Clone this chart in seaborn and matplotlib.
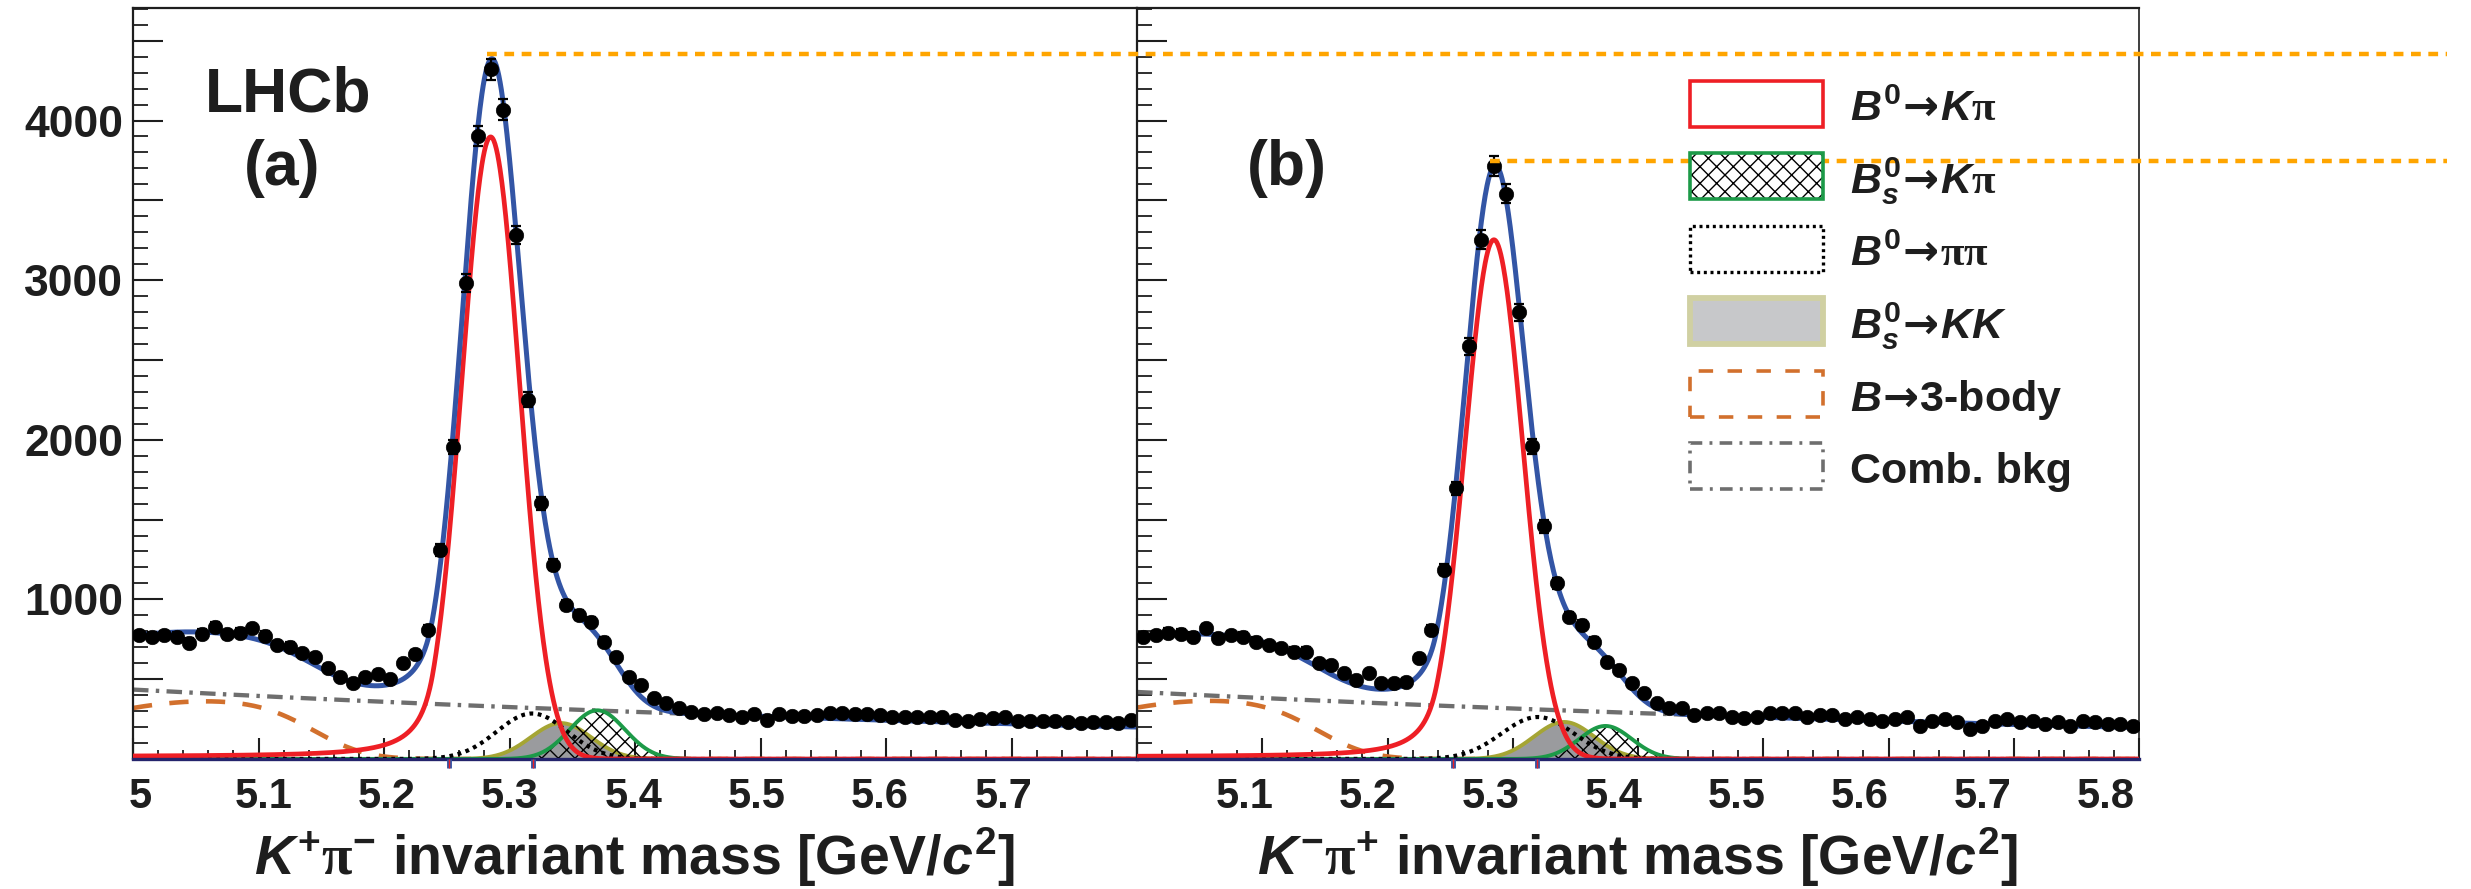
import math
import numpy as np
import matplotlib
matplotlib.use("Agg")
import matplotlib.pyplot as plt
import seaborn as sns
from matplotlib.lines import Line2D
from matplotlib.patches import Rectangle
from matplotlib.ticker import FixedLocator, FuncFormatter
from matplotlib.transforms import ScaledTranslation

sns.set_theme(style="white")
plt.rcParams.update({
    "font.family": ["Liberation Sans", "DejaVu Sans"],
    "font.weight": "bold",
    "mathtext.fontset": "custom",
    "mathtext.rm": "Liberation Serif",
    "mathtext.it": "Liberation Sans:italic:bold",
    "mathtext.bf": "Liberation Sans:bold",
    "mathtext.sf": "DejaVu Sans",
    "hatch.linewidth": 1.0,
    "axes.linewidth": 1.5,
})

# ---------------- binned data (10 MeV bins, 5.0 - 5.8 GeV) ----------------
bin_centres = np.round(5.005 + 0.01 * np.arange(80), 3)

counts_kpi = [
    777, 767, 777, 767, 729, 784, 830, 782, 792, 819,
    773, 715, 704, 663, 641, 569, 516, 475, 516, 533,
    500, 600, 658, 809, 1310, 1956, 2982, 3902, 4320, 4069,
    3285, 2251, 1603, 1216, 965, 903, 861, 736, 641, 516,
    464, 380, 349, 318, 297, 283, 290, 276, 262, 283,
    245, 283, 269, 269, 276, 290, 287, 280, 283, 276,
    262, 262, 262, 265, 262, 245, 238, 248, 255, 262,
    238, 238, 238, 238, 231, 224, 231, 231, 224, 245,
]

counts_kpibar = [
    767, 777, 792, 784, 767, 819, 757, 777, 767, 736,
    715, 694, 673, 673, 600, 589, 537, 495, 537, 475,
    475, 485, 631, 809, 1185, 1697, 2585, 3254, 3714, 3542,
    2800, 1958, 1457, 1101, 892, 840, 736, 610, 558, 475,
    412, 349, 318, 318, 276, 286, 286, 265, 255, 265,
    286, 286, 286, 265, 276, 273, 251, 262, 251, 240,
    251, 262, 208, 240, 251, 229, 186, 208, 240, 251,
    229, 240, 219, 229, 208, 240, 229, 219, 219, 208,
]

# ---------------- fit-component parameters: [panel (a), panel (b)] ----------------
sig_height = [3890, 3246]
sig_mean = [5.285, 5.285]
sig_width = [0.023, 0.023]
sig_tail_alpha = [2.0, 2.0]
sig_tail_n = [2.0, 2.0]
sig_pedestal = [15, 14]

bs_kpi_height = [305, 207]
bs_kpi_mean = [5.370, 5.374]
bs_kpi_width = [0.022, 0.021]

pipi_height = [285, 263]
pipi_mean = [5.318, 5.320]
pipi_width = [0.028, 0.029]

kk_height = [225, 232]
kk_mean = [5.341, 5.341]
kk_width = [0.024, 0.024]

three_body_height = [362, 365]
three_body_centre = [5.06, 5.06]
three_body_spread = [0.12, 0.12]
three_body_edge = [5.155, 5.155]
three_body_edge_width = [0.033, 0.033]

comb_at_5gev = [435, 420]
comb_slope = [0.97, 0.946]

panel_tags = ["(a)", "(b)"]
x_titles = [
    r"$K^{\mathbf{+}}\mathrm{\pi}^{\mathbf{-}}$ invariant mass [GeV/$c^{\mathbf{2}}$]",
    r"$K^{\mathbf{-}}\mathrm{\pi}^{\mathbf{+}}$ invariant mass [GeV/$c^{\mathbf{2}}$]",
]
legend_labels = [
    r"$B^{\mathbf{0}}\!\mathsf{\rightarrow}\! K\mathrm{\pi}$",
    r"$B_{s}^{\mathbf{0}}\!\mathsf{\rightarrow}\! K\mathrm{\pi}$",
    r"$B^{\mathbf{0}}\!\mathsf{\rightarrow}\!\mathrm{\pi\pi}$",
    r"$B_{s}^{\mathbf{0}}\!\mathsf{\rightarrow}\! KK$",
    r"$B\!\mathsf{\rightarrow}\!$3-body",
    "Comb. bkg",
]
x_major = [5.0, 5.1, 5.2, 5.3, 5.4, 5.5, 5.6, 5.7, 5.8]
y_major = [0, 500, 1000, 1500, 2000, 2500, 3000, 3500, 4000, 4500]

# ---------------- colours ----------------
C_TOTAL = "#3355a5"
C_SIG = "#ee1f25"
C_BSKPI = "#1c9a48"
C_KK_FILL = "#9a9b9e"
C_KK_LINE = "#a5a534"
C_3BODY = "#d2702d"
C_COMB = "#6e6e6e"
C_GUIDE = "#ffa500"
C_INK = "#1e1e1e"

_erfc = np.vectorize(math.erfc)


def gauss(m, h, mu, s):
    return h * np.exp(-0.5 * ((m - mu) / s) ** 2)


def crystal_ball(m, h, mu, s, alpha, n):
    z = (m - mu) / s
    a = (n / alpha) ** n * np.exp(-0.5 * alpha ** 2)
    b = n / alpha - alpha
    out = np.exp(-0.5 * z ** 2)
    tail = z < -alpha
    out[tail] = a * (b - z[tail]) ** (-n)
    return h * out


def components(m, i):
    sig = crystal_ball(m, sig_height[i], sig_mean[i], sig_width[i],
                       sig_tail_alpha[i], sig_tail_n[i])
    sig = sig + sig_pedestal[i] * 0.5 * _erfc((m - sig_mean[i]) / (math.sqrt(2) * sig_width[i]))
    bs = gauss(m, bs_kpi_height[i], bs_kpi_mean[i], bs_kpi_width[i])
    pp = gauss(m, pipi_height[i], pipi_mean[i], pipi_width[i])
    kk = gauss(m, kk_height[i], kk_mean[i], kk_width[i])
    tb = (gauss(m, three_body_height[i], three_body_centre[i], three_body_spread[i])
          * 0.5 * _erfc((m - three_body_edge[i]) / (math.sqrt(2) * three_body_edge_width[i])))
    cb = comb_at_5gev[i] * np.exp(-comb_slope[i] * (m - 5.0))
    return sig, bs, pp, kk, tb, cb


W, H = 2471, 889
fig = plt.figure(figsize=(W / 100, H / 100), dpi=100)
fig.patch.set_facecolor("white")

ax_a = fig.add_axes([133 / W, 1 - 759 / H, (1137 - 133) / W, (759 - 8) / H])
ax_b = fig.add_axes([1137 / W, 1 - 759 / H, (2139 - 1137) / W, (759 - 8) / H])
axes = [ax_a, ax_b]

m = np.linspace(5.0, 5.8, 1601)
peak_info = []

for i, ax in enumerate(axes):
    sig, bs, pp, kk, tb, cb = components(m, i)
    total = sig + bs + pp + kk + tb + cb

    # combinatorial and partially reconstructed backgrounds
    sns.lineplot(x=m, y=cb, ax=ax, color=C_COMB, linewidth=3.1, zorder=2).lines[-1].set_dashes((3.6, 1.7, 0.8, 1.7))
    sns.lineplot(x=m, y=tb, ax=ax, color=C_3BODY, linewidth=3.3, zorder=2).lines[-1].set_dashes((4.2, 3.8))

    # B0s -> KK (filled)
    ax.fill_between(m, 0, kk, facecolor=C_KK_FILL, edgecolor="none", zorder=3)
    sns.lineplot(x=m, y=kk, ax=ax, color=C_KK_LINE, linewidth=2.8, zorder=3.1)

    # B0s -> K pi (hatched)
    ax.fill_between(m, 0, bs, facecolor="none", edgecolor="black", hatch="xx",
                    linewidth=0, zorder=3.4)
    sns.lineplot(x=m, y=bs, ax=ax, color=C_BSKPI, linewidth=2.8, zorder=3.5)

    # B0 -> pi pi (dotted)
    line = sns.lineplot(x=m, y=pp, ax=ax, color="black", linewidth=3.0, zorder=3.7).lines[-1]
    line.set_dashes((0.9, 1.1))

    # signal and total fit
    sns.lineplot(x=m, y=sig, ax=ax, color=C_SIG, linewidth=3.4, zorder=4)
    sns.lineplot(x=m, y=total, ax=ax, color=C_TOTAL, linewidth=3.6, zorder=5)

    # data points with Poisson errors
    counts = np.asarray(counts_kpi if i == 0 else counts_kpibar, dtype=float)
    ax.errorbar(bin_centres, counts, yerr=np.sqrt(counts), fmt="none",
                ecolor="black", elinewidth=1.6, capsize=3.5, capthick=1.6, zorder=6)
    sns.scatterplot(x=bin_centres, y=counts, ax=ax, color="black", s=110,
                    edgecolor="black", linewidth=0.4, zorder=7)

    k = int(np.argmax(total))
    peak_info.append((m[k], total[k]))

    # axes styling
    ax.set_xlim(5.0, 5.8)
    ax.set_ylim(0, 4705)
    ax.set_facecolor("white")
    for side in ["top", "left", "right", "bottom"]:
        ax.spines[side].set_color(C_INK)
        ax.spines[side].set_linewidth(1.6)
    ax.spines["bottom"].set_color("#24246c")
    ax.spines["bottom"].set_linewidth(2.4)
    ax.spines["bottom"].set_zorder(8)
    if i == 0:
        ax.spines["right"].set_visible(False)
    else:
        ax.spines["right"].set_linewidth(1.2)

    ax.xaxis.set_major_locator(FixedLocator(x_major))
    ax.xaxis.set_minor_locator(FixedLocator(np.round(np.arange(5.0, 5.801, 0.02), 2)))
    ax.yaxis.set_major_locator(FixedLocator(y_major))
    ax.yaxis.set_minor_locator(FixedLocator(np.arange(0, 4701, 100)))

    hidden = 5.8 if i == 0 else 5.0
    ax.xaxis.set_major_formatter(FuncFormatter(
        lambda v, p, hidden=hidden: "" if abs(v - hidden) < 1e-6 else ("5" if abs(v - 5.0) < 1e-6 else f"{v:.1f}")))
    ax.yaxis.set_major_formatter(FuncFormatter(
        lambda v, p: f"{int(v)}" if (v > 0 and int(v) % 1000 == 0) else ""))

    ax.tick_params(axis="x", which="major", direction="in", length=15, width=1.5,
                   color=C_INK, labelsize=30, pad=13, top=False, bottom=True,
                   labelcolor=C_INK)
    ax.tick_params(axis="x", which="minor", direction="in", length=6.5, width=1.3,
                   color=C_INK, top=False, bottom=True)
    ax.tick_params(axis="y", which="major", direction="in", length=21.5, width=1.5,
                   color=C_INK, labelsize=32, pad=7, left=True, right=False,
                   labelleft=(i == 0), labelcolor=C_INK)
    ax.tick_params(axis="y", which="minor", direction="in", length=10.8, width=1.3,
                   color=C_INK, left=True, right=False)
    ax.set_xlabel("")
    ax.set_ylabel("")

    # x-axis title
    ax.text(0.5, -0.155, x_titles[i], transform=ax.transAxes, ha="center",
            va="baseline", fontsize=40, fontweight="bold", color=C_INK)

    # small signal-window marks under the axis
    for edge in (5.252, 5.319):
        ax.plot([edge, edge], [-0.012, 0.0], transform=ax.get_xaxis_transform(),
                color=C_TOTAL, linewidth=3.5, clip_on=False, zorder=9, solid_capstyle="butt")
        ax.plot([edge, edge], [-0.012, 0.0], transform=ax.get_xaxis_transform(),
                color=C_SIG, linewidth=1.0, clip_on=False, zorder=9.5, solid_capstyle="butt")

# shift the x tick labels the way the labels sit under each axis
label_shift = [lambda v: 5 + (v - 5.1) * (-22), lambda v: -18 + (v - 5.1) * (-22)]
for i, ax in enumerate(axes):
    for tick, v in zip(ax.xaxis.get_major_ticks(), x_major):
        lab = tick.label1
        lab.set_transform(lab.get_transform()
                          + ScaledTranslation(label_shift[i](v) / 100, 0, fig.dpi_scale_trans))

# ---------------- annotations ----------------
fig.text(288 / W, 1 - 112 / H, "LHCb", ha="center", va="baseline", fontsize=45,
         fontweight="bold", color=C_INK)
fig.text(282 / W, 1 - 185 / H, panel_tags[0], ha="center", va="baseline", fontsize=45,
         fontweight="bold", color=C_INK)
fig.text(1287 / W, 1 - 185 / H, panel_tags[1], ha="center", va="baseline", fontsize=45,
         fontweight="bold", color=C_INK)

# orange guide lines at the fitted maxima
fig.canvas.draw()
inv = fig.transFigure.inverted()
for ax, (mx, my) in zip(axes, peak_info):
    x0, y0 = inv.transform(ax.transData.transform((mx - 0.004, my + 30)))
    fig.add_artist(Line2D([x0, 2447 / W], [y0, y0], transform=fig.transFigure,
                          color=C_GUIDE, linewidth=3.2, dashes=(2.2, 1.7),
                          solid_capstyle="butt", dash_capstyle="butt", zorder=20))

# ---------------- legend ----------------
box_x0, box_x1 = 1690, 1823
box_h = 46
for j, label in enumerate(legend_labels):
    top = 81 + 72.4 * j
    xy = (box_x0 / W, 1 - (top + box_h) / H)
    wh = ((box_x1 - box_x0) / W, box_h / H)
    common = dict(transform=fig.transFigure, zorder=21)
    if j == 0:
        patches = [Rectangle(xy, *wh, facecolor="white", edgecolor=C_SIG, linewidth=2.6, **common)]
    elif j == 1:
        patches = [Rectangle(xy, *wh, facecolor="white", edgecolor="black", hatch="xx",
                             linewidth=0, **common),
                   Rectangle(xy, *wh, facecolor="none", edgecolor=C_BSKPI, linewidth=2.6, **common)]
    elif j == 2:
        patches = [Rectangle(xy, *wh, facecolor="white", edgecolor="black", linewidth=2.4,
                             linestyle=(0, (0.9, 1.1)), **common)]
    elif j == 3:
        patches = [Rectangle(xy, *wh, facecolor="#c7c8ca", edgecolor="#d0d0a2", linewidth=4.2, **common)]
    elif j == 4:
        patches = [Rectangle(xy, *wh, facecolor="white", edgecolor=C_3BODY, linewidth=2.6,
                             linestyle=(0, (4.0, 4.0)), **common)]
    else:
        patches = [Rectangle(xy, *wh, facecolor="white", edgecolor=C_COMB, linewidth=2.6,
                             linestyle=(0, (3.5, 2.0, 0.8, 2.0)), **common)]
    for p in patches:
        fig.add_artist(p)
    fig.text(1850 / W, 1 - (top + box_h - 6) / H, label, ha="left", va="baseline",
             fontsize=31, fontweight="bold", color=C_INK, zorder=22)

fig.savefig("out.png", dpi=100, facecolor="white")
